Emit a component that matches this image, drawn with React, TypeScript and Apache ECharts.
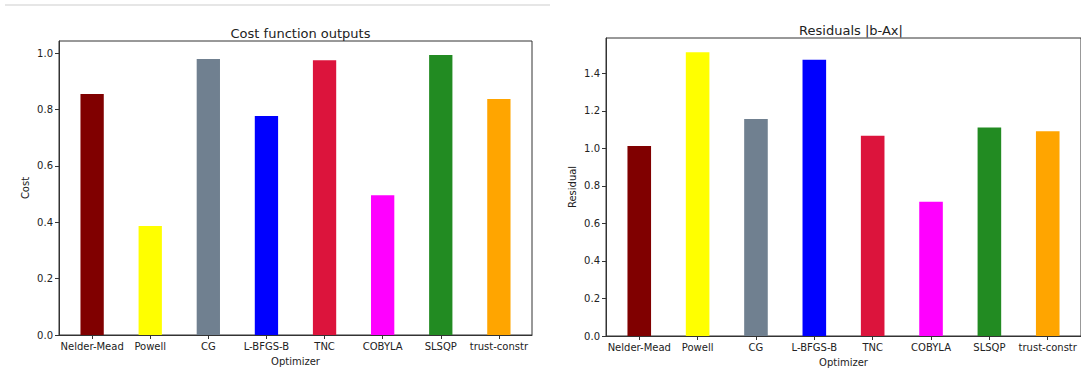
import React, { useEffect, useRef } from "react";
import * as echarts from "echarts";

const categories = ["Nelder-Mead", "Powell", "CG", "L-BFGS-B", "TNC", "COBYLA", "SLSQP", "trust-constr"];
const costValues = [0.855, 0.387, 0.979, 0.777, 0.975, 0.496, 0.993, 0.837];
const residualValues = [1.013, 1.512, 1.157, 1.472, 1.067, 0.715, 1.111, 1.091];
const barColors = ["#800000", "#ffff00", "#708090", "#0000ff", "#dc143c", "#ff00ff", "#228b22", "#ffa500"];
const costTicks = [0, 0.2, 0.4, 0.6, 0.8, 1.0];
const residualTicks = [0, 0.2, 0.4, 0.6, 0.8, 1.0, 1.2, 1.4];
const categoryIndex = categories.map((_, i) => i);

const FONT = "DejaVu Sans";
const TEXT = "#222";
const SPINE = "#333";

function xAxisFor(gridIndex: number) {
  return {
    type: "value",
    gridIndex,
    min: -0.57,
    max: 7.57,
    name: "Optimizer",
    nameLocation: "middle",
    nameGap: 21,
    nameTextStyle: { fontFamily: FONT, fontSize: 10, color: TEXT },
    splitLine: { show: false },
    axisLine: { show: true, onZero: false, lineStyle: { color: SPINE, width: 1 } },
    axisTick: { show: true, length: 4, customValues: categoryIndex, lineStyle: { color: SPINE } },
    axisLabel: {
      customValues: categoryIndex,
      formatter: (v: number) => categories[Math.round(v)] ?? "",
      fontFamily: FONT,
      fontSize: 10,
      color: TEXT,
      margin: 6,
    },
  };
}

function yAxisFor(gridIndex: number, max: number, ticks: number[], name: string) {
  return {
    type: "value",
    gridIndex,
    min: 0,
    max,
    name,
    nameLocation: "middle",
    nameGap: 29,
    nameTextStyle: { fontFamily: FONT, fontSize: 10, color: TEXT },
    splitLine: { show: false },
    axisLine: { show: true, onZero: false, lineStyle: { color: SPINE, width: 1 } },
    axisTick: { show: true, length: 4, customValues: ticks, lineStyle: { color: SPINE } },
    axisLabel: {
      customValues: ticks,
      formatter: (v: number) => v.toFixed(1),
      fontFamily: FONT,
      fontSize: 10,
      color: TEXT,
      margin: 6,
    },
  };
}

function barData(values: number[]) {
  return values.map((v, i) => ({ value: [i, v], itemStyle: { color: barColors[i] } }));
}

export default function App() {
  const ref = useRef<HTMLDivElement>(null);
  useEffect(() => {
    document.body.style.margin = "0";
    const chart = echarts.init(ref.current!, undefined, { renderer: "svg" });
    chart.setOption({
      animation: false,
      backgroundColor: "#ffffff",
      title: [
        {
          text: "Cost function outputs",
          left: 295.5,
          top: 22,
          textAlign: "center",
          textStyle: { fontFamily: FONT, fontSize: 13, fontWeight: "normal", color: TEXT },
        },
        {
          text: "Residuals |b-Ax|",
          left: 846,
          top: 19,
          textAlign: "center",
          textStyle: { fontFamily: FONT, fontSize: 13, fontWeight: "normal", color: TEXT },
        },
      ],
      graphic: [
        {
          type: "line",
          shape: { x1: 5, y1: 5, x2: 550, y2: 5 },
          style: { stroke: "#e6e6e6", lineWidth: 2 },
        },
      ],
      grid: [
        { left: 59, top: 41, width: 473, height: 294, show: true, borderColor: SPINE, borderWidth: 1, backgroundColor: "transparent" },
        { left: 606, top: 38, width: 480, height: 298, show: true, borderColor: SPINE, borderWidth: 1, backgroundColor: "transparent" },
      ],
      xAxis: [xAxisFor(0), xAxisFor(1)],
      yAxis: [
        yAxisFor(0, 1.043, costTicks, "Cost"),
        yAxisFor(1, 1.588, residualTicks, "Residual"),
      ],
      series: [
        { type: "bar", xAxisIndex: 0, yAxisIndex: 0, barWidth: 23.3, data: barData(costValues) },
        { type: "bar", xAxisIndex: 1, yAxisIndex: 1, barWidth: 23.6, data: barData(residualValues) },
      ],
    });
    return () => chart.dispose();
  }, []);
  return <div ref={ref} style={{ position: "absolute", left: 0, top: 0, width: 1081, height: 373 }} />;
}
